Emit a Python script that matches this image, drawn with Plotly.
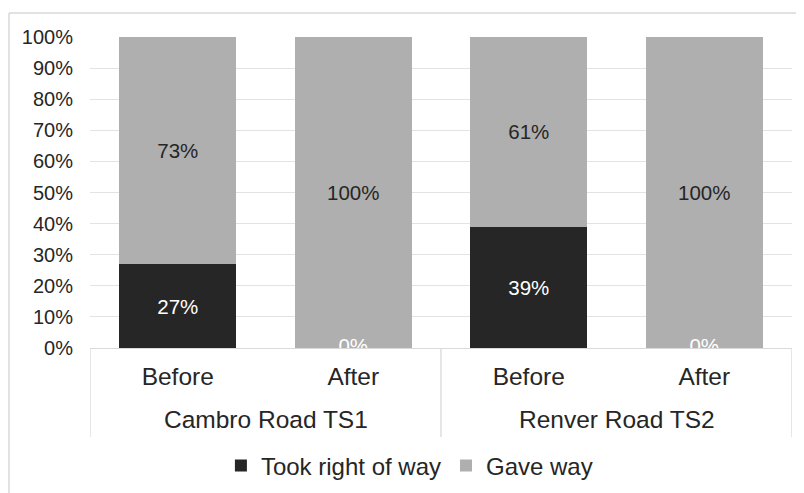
import plotly.graph_objects as go

groups = ["Cambro Road TS1", "Cambro Road TS1", "Renver Road TS2", "Renver Road TS2"]
periods = ["Before", "After", "Before", "After"]
took_right_of_way = [27, 0, 39, 0]
gave_way = [73, 100, 61, 100]
y_ticks = [0, 10, 20, 30, 40, 50, 60, 70, 80, 90, 100]

FONT = "Liberation Sans, Arial, sans-serif"
DARK = "#262626"
GREY = "#afafaf"
TEXT = "#262626"
LINE = "#d9d9d9"

# page has an 8px body margin; the figure is sized so the plot area lands where it does in the reference
L, T, R, B = 82, 29, 12, 145
W, H = 796, 485
PH = H - T - B  # plot height in px
PW = W - L - R

cats = [f"{g}|{p}" for g, p in zip(groups, periods)]
idx = list(range(len(cats)))

fig = go.Figure()
fig.add_trace(go.Bar(
    name="Took right of way", x=idx, y=took_right_of_way,
    marker=dict(color=DARK, line=dict(width=0)),
    text=[f"{v}%" if v > 0 else "" for v in took_right_of_way],
    textposition="inside", insidetextanchor="middle", textangle=0,
    constraintext="none",
    insidetextfont=dict(color="white", size=20.5, family=FONT),
))
fig.add_trace(go.Bar(
    name="Gave way", x=idx, y=gave_way,
    marker=dict(color=GREY, line=dict(width=0)),
    text=[f"{v}%" for v in gave_way],
    textposition="inside", insidetextanchor="middle", textangle=0,
    constraintext="none",
    insidetextfont=dict(color=TEXT, size=20.5, family=FONT),
))
# zero-value labels of the dark series, clipped by the plot area like the original
zx = [i for i, v in zip(idx, took_right_of_way) if v == 0]
zy = [v for v in took_right_of_way if v == 0]
fig.add_trace(go.Scatter(
    x=zx, y=zy, mode="text", text=[f"{v}%" for v in zy],
    textposition="middle center", cliponaxis=True, showlegend=False,
    textfont=dict(color="white", size=20.5, family=FONT), hoverinfo="skip",
))

# group labels and dividers below the axis
unique_groups = list(dict.fromkeys(groups))
bounds = [-0.5]
for g in unique_groups:
    members = [i for i, gg in zip(idx, groups) if gg == g]
    fig.add_annotation(x=sum(members) / len(members), xref="x",
                       y=-72 / PH, yref="paper", yanchor="middle",
                       text=g, showarrow=False,
                       font=dict(size=24.5, family=FONT, color=TEXT))
    bounds.append(max(members) + 0.5)
for b in bounds:
    fig.add_shape(type="line", xref="x", yref="paper", x0=b, x1=b,
                  y0=0, y1=-89 / PH, line=dict(color=LINE, width=1.3))

fig.update_layout(
    width=W, height=H,
    margin=dict(l=L, r=R, t=T, b=B, autoexpand=False),
    barmode="stack", bargap=0.333,
    paper_bgcolor="white", plot_bgcolor="white",
    font=dict(family=FONT, color=TEXT),
    legend=dict(orientation="h", x=0.455, xanchor="center", y=-118 / PH, yanchor="middle",
                font=dict(size=24, family=FONT, color=TEXT), itemwidth=30,
                traceorder="normal"),
    showlegend=True,
)
fig.update_yaxes(
    range=[0, 100], tickvals=y_ticks, ticktext=[f"{v}%" for v in y_ticks],
    showgrid=True, gridcolor="#e3e3e3", gridwidth=1.3,
    zeroline=False, showline=False, automargin=False,
    tickfont=dict(size=20, family=FONT, color=TEXT),
    ticklabelstandoff=16,
)
fig.update_xaxes(
    range=[-0.5, len(idx) - 0.5], tickvals=idx, ticktext=periods,
    showline=True, linecolor=LINE, linewidth=1.3,
    tickfont=dict(size=24.5, family=FONT, color=TEXT),
    showgrid=False, automargin=False, zeroline=False,
    ticklabelstandoff=6,
)
# outer chart border (top and left visible in original crop)
fig.add_shape(type="line", xref="paper", yref="paper",
              x0=(1 - L) / PW, x1=(W - L) / PW, y0=1 + (T - 5) / PH, y1=1 + (T - 5) / PH,
              line=dict(color=LINE, width=1.5))
fig.add_shape(type="line", xref="paper", yref="paper",
              x0=(1 - L) / PW, x1=(1 - L) / PW, y0=1 + (T - 5) / PH, y1=-B / PH,
              line=dict(color=LINE, width=1.5))

fig.write_html("out.html")
